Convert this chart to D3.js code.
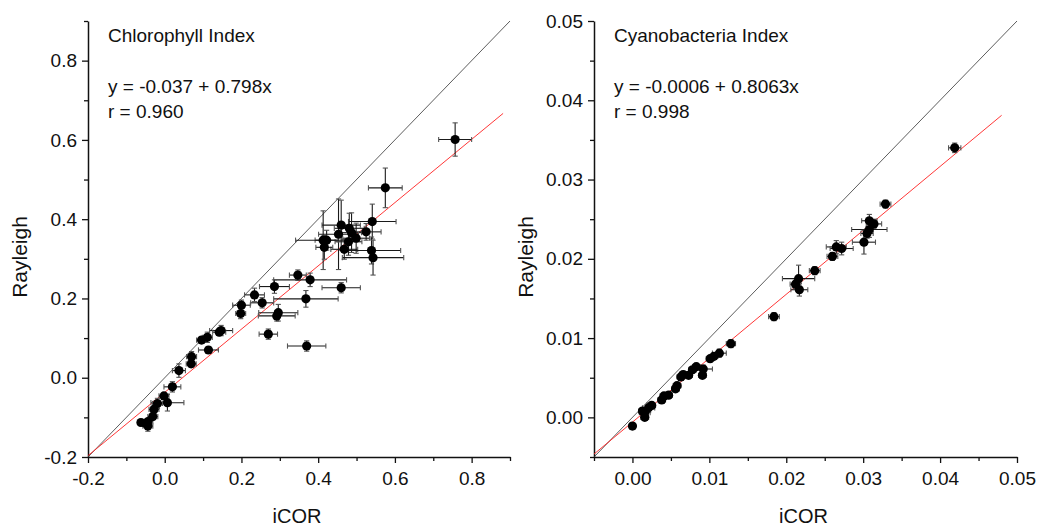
<!DOCTYPE html>
<html>
<head>
<meta charset="utf-8">
<script src="https://cdn.jsdelivr.net/npm/d3@7"></script>
<style>
  html, body { margin: 0; padding: 0; background: #fff; }
  svg text { font-family: "Liberation Sans", Arial, sans-serif; fill: #111; }
</style>
</head>
<body>
<svg id="chart" width="1050" height="527"></svg>
<script>
// ---- Chlorophyll Index: iCOR vs Rayleigh ----
const chlX = [0.757,0.575,0.541,0.525,0.499,0.487,0.481,0.460,0.453,0.479,0.468,0.422,0.413,0.416,0.539,0.543,0.347,0.379,0.286,0.460,0.368,0.234,0.254,0.200,0.198,0.296,0.292,0.270,0.370,0.147,0.142,0.096,0.111,0.114,0.070,0.069,0.037,0.020,-0.002,0.007,-0.019,-0.028,-0.031,-0.044,-0.062,-0.044,-0.050];
const chlY = [0.601,0.479,0.394,0.368,0.352,0.366,0.377,0.385,0.362,0.343,0.324,0.347,0.347,0.329,0.321,0.303,0.259,0.247,0.230,0.227,0.199,0.209,0.189,0.183,0.162,0.164,0.156,0.110,0.080,0.119,0.115,0.095,0.102,0.070,0.053,0.035,0.018,-0.023,-0.046,-0.063,-0.065,-0.080,-0.098,-0.111,-0.113,-0.122,-0.115];
const chlXErr = [0.043,0.044,0.062,0.039,0.035,0.026,0.039,0.050,0.052,0.035,0.035,0.030,0.072,0.022,0.076,0.080,0.022,0.095,0.039,0.050,0.084,0.026,0.030,0.023,0.013,0.051,0.048,0.024,0.050,0.030,0.017,0.013,0.013,0.026,0.013,0.013,0.017,0.022,0.013,0.043,0.013,0.013,0.013,0.013,0.009,0.013,0.009];
const chlYErr = [0.042,0.050,0.044,0.021,0.038,0.050,0.038,0.063,0.089,0.034,0.025,0.025,0.074,0.030,0.034,0.044,0.013,0.017,0.017,0.013,0.021,0.017,0.013,0.013,0.013,0.021,0.013,0.013,0.013,0.013,0.008,0.008,0.013,0.008,0.013,0.008,0.017,0.013,0.008,0.021,0.013,0.008,0.008,0.008,0.008,0.013,0.008];
const chlFit = { intercept: -0.037, slope: 0.798, r: 0.960 };
const chlMajorTicks = [-0.2, 0.0, 0.2, 0.4, 0.6, 0.8];
const chlMinorTicks = [-0.1, 0.1, 0.3, 0.5, 0.7, 0.9];

// ---- Cyanobacteria Index: iCOR vs Rayleigh ----
const cyX = [0.0419,0.0329,0.0308,0.0314,0.0308,0.0305,0.0301,0.0265,0.0272,0.0260,0.0237,0.0216,0.0212,0.0217,0.0184,0.0128,0.0113,0.0106,0.0101,0.0092,0.0091,0.0083,0.0078,0.0073,0.0066,0.0063,0.0058,0.0056,0.0047,0.0041,0.0038,0.0025,0.0021,0.0016,0.0016,0.0013,0.0000];
const cyY = [0.0340,0.0269,0.0248,0.0244,0.0237,0.0232,0.0221,0.0215,0.0213,0.0203,0.0185,0.0175,0.0168,0.0161,0.0127,0.0093,0.0081,0.0077,0.0074,0.0061,0.0053,0.0064,0.0060,0.0053,0.0054,0.0051,0.0040,0.0036,0.0028,0.0027,0.0022,0.0015,0.0012,0.0006,0.0000,0.0008,-0.0011];
const cyXErr = [0.0008,0.0007,0.0010,0.0010,0.0023,0.0008,0.0015,0.0013,0.0015,0.0007,0.0007,0.0021,0.0007,0.0011,0.0007,0.0006,0.0009,0.0005,0.0005,0.0012,0.0005,0.0005,0.0005,0.0005,0.0005,0.0005,0.0005,0.0005,0.0005,0.0005,0.0005,0.0005,0.0008,0.0007,0.0005,0.0005,0.0004];
const cyYErr = [0.0006,0.0005,0.0008,0.0006,0.0010,0.0006,0.0015,0.0008,0.0008,0.0005,0.0005,0.0017,0.0005,0.0008,0.0005,0.0005,0.0005,0.0004,0.0004,0.0005,0.0004,0.0004,0.0004,0.0004,0.0004,0.0004,0.0004,0.0004,0.0004,0.0004,0.0004,0.0004,0.0006,0.0006,0.0004,0.0004,0.0004];
const cyFit = { intercept: -0.0006, slope: 0.8063, r: 0.998 };
const cyMajorTicks = [0.00, 0.01, 0.02, 0.03, 0.04, 0.05];
const cyMinorTicks = [-0.005, 0.005, 0.015, 0.025, 0.035, 0.045];

const svg = d3.select("#chart");

function drawPanel(opt) {
  const x = d3.scaleLinear().domain(opt.domain).range([opt.left, opt.right]);
  const y = d3.scaleLinear().domain(opt.domain).range([opt.bottom, opt.top]);
  const fmt = v => d3.format(opt.fmt)(v).replace("\u2212", "-");
  const g = svg.append("g");

  // minor ticks
  g.append("g").attr("transform", `translate(0,${opt.bottom})`)
    .call(d3.axisBottom(x).tickValues(opt.minor).tickSize(4).tickFormat(""))
    .call(a => a.select(".domain").remove());
  g.append("g").attr("transform", `translate(${opt.left},0)`)
    .call(d3.axisLeft(y).tickValues(opt.minor).tickSize(4).tickFormat(""))
    .call(a => a.select(".domain").remove());

  // major ticks with labels
  const xa = g.append("g").attr("transform", `translate(0,${opt.bottom})`)
    .call(d3.axisBottom(x).tickValues(opt.major).tickSize(6).tickSizeOuter(0).tickPadding(9).tickFormat(fmt));
  const ya = g.append("g").attr("transform", `translate(${opt.left},0)`)
    .call(d3.axisLeft(y).tickValues(opt.major).tickSize(6).tickSizeOuter(0).tickPadding(5).tickFormat(fmt));
  [xa, ya].forEach(a => {
    a.selectAll("text").style("font-size", "19px").attr("fill", "#111")
      .style("font-family", '"Liberation Sans", Arial, sans-serif');
    a.select(".domain").attr("stroke", "#111").attr("stroke-width", 1.5);
  });
  g.selectAll(".tick line").attr("stroke", "#111").attr("stroke-width", 1.3);

  // 1:1 line and regression line
  const d0 = opt.domain[0], d1 = opt.domain[1];
  g.append("line")
    .attr("x1", x(d0)).attr("y1", y(d0)).attr("x2", x(d1)).attr("y2", y(d1))
    .attr("stroke", "#333").attr("stroke-width", 0.8);
  const f = opt.fit;
  g.append("line")
    .attr("x1", x(opt.fitRange[0])).attr("y1", y(f.intercept + f.slope * opt.fitRange[0]))
    .attr("x2", x(opt.fitRange[1])).attr("y2", y(f.intercept + f.slope * opt.fitRange[1]))
    .attr("stroke", "#ff2020").attr("stroke-width", 0.9);

  // error bars
  const pts = opt.xs.map((v, i) => ({ x: v, y: opt.ys[i], ex: opt.xe[i], ey: opt.ye[i] }));
  const cap = 2.6;
  const eb = g.append("g").attr("stroke", "#1a1a1a").attr("stroke-width", 1.1);
  pts.forEach(p => {
    const cx = x(p.x), cy = y(p.y);
    const xl = x(p.x - p.ex), xr = x(p.x + p.ex);
    const yt = y(p.y + p.ey), yb = y(p.y - p.ey);
    eb.append("line").attr("x1", xl).attr("x2", xr).attr("y1", cy).attr("y2", cy);
    eb.append("line").attr("x1", xl).attr("x2", xl).attr("y1", cy - cap).attr("y2", cy + cap).attr("stroke", "#555");
    eb.append("line").attr("x1", xr).attr("x2", xr).attr("y1", cy - cap).attr("y2", cy + cap).attr("stroke", "#555");
    eb.append("line").attr("x1", cx).attr("x2", cx).attr("y1", yt).attr("y2", yb);
    eb.append("line").attr("x1", cx - cap).attr("x2", cx + cap).attr("y1", yt).attr("y2", yt).attr("stroke", "#555");
    eb.append("line").attr("x1", cx - cap).attr("x2", cx + cap).attr("y1", yb).attr("y2", yb).attr("stroke", "#555");
  });

  // markers
  g.append("g").selectAll("circle").data(pts).join("circle")
    .attr("cx", d => x(d.x)).attr("cy", d => y(d.y)).attr("r", 4.6)
    .attr("fill", "#000");

  // annotations: panel title, regression equation, correlation
  const ann = g.append("g").style("font-size", "19px");
  ann.append("text").attr("x", opt.left + 20).attr("y", 42).text(opt.title);
  ann.append("text").attr("x", opt.left + 20).attr("y", 93)
    .text(`y = ${String(f.intercept)} + ${f.slope}x`);
  ann.append("text").attr("x", opt.left + 20).attr("y", 118).text(`r = ${d3.format(".3f")(f.r)}`);

  // axis titles
  g.append("text").attr("x", (opt.left + opt.right) / 2 - 2).attr("y", 523)
    .attr("text-anchor", "middle").style("font-size", "20px").text("iCOR");
  g.append("text")
    .attr("transform", `translate(${opt.left - 61},${257}) rotate(-90)`)
    .attr("text-anchor", "middle").style("font-size", "21px").text("Rayleigh");
}

drawPanel({
  domain: [-0.2, 0.9], left: 88, right: 510, top: 21, bottom: 457,
  major: chlMajorTicks, minor: chlMinorTicks, fmt: ".1f",
  xs: chlX, ys: chlY, xe: chlXErr, ye: chlYErr,
  fit: chlFit, fitRange: [-0.2, 0.882], title: "Chlorophyll Index"
});

drawPanel({
  domain: [-0.005, 0.05], left: 594, right: 1017, top: 21, bottom: 457,
  major: cyMajorTicks, minor: cyMinorTicks, fmt: ".2f",
  xs: cyX, ys: cyY, xe: cyXErr, ye: cyYErr,
  fit: cyFit, fitRange: [-0.005, 0.048], title: "Cyanobacteria Index"
});
</script>
</body>
</html>
